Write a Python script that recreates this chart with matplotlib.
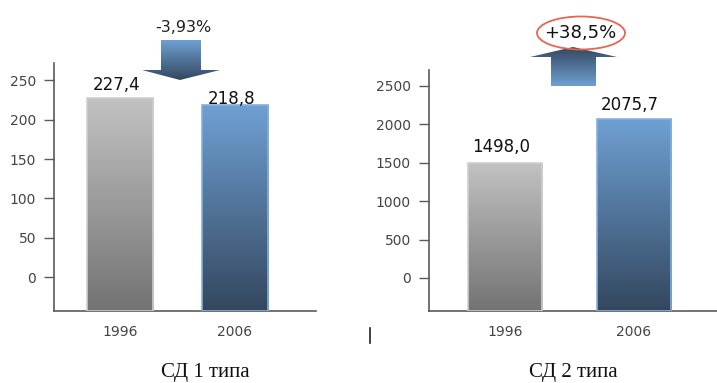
import numpy as np
import matplotlib
matplotlib.use("Agg")
import matplotlib.pyplot as plt
from matplotlib.patches import Polygon, Ellipse
from matplotlib.colors import LinearSegmentedColormap

# incidence of diabetes, two groups
years = ["1996", "2006"]
type1_values = [227.4, 218.8]
type2_values = [1498.0, 2075.7]
type1_change = "-3,93%"
type2_change = "+38,5%"
panel_titles = ["СД 1 типа", "СД 2 типа"]
type1_ticks = [0, 50, 100, 150, 200, 250]
type2_ticks = [0, 500, 1000, 1500, 2000, 2500]

GREY = LinearSegmentedColormap.from_list("grey", ["#737373", "#c2c2c2"])
BLUE = LinearSegmentedColormap.from_list("blue", ["#33475f", "#6fa0d3"])
AXIS = "#5a5a5a"


def fmt(v):
    return ("%.1f" % v).replace(".", ",")


def gradient_bar(ax, x, bottom, top, width, cmap, edge):
    bar = ax.bar(x, top - bottom, bottom=bottom, width=width,
                 color="none", edgecolor=edge, linewidth=1.2, zorder=3)[0]
    grad = np.linspace(0, 1, 256).reshape(-1, 1)
    im = ax.imshow(grad, cmap=cmap, origin="lower", aspect="auto",
                   extent=(x - width / 2, x + width / 2, bottom, top), zorder=2)
    im.set_clip_path(bar)


def draw_panel(ax, values, ticks, ylim, xlim, width, label_pad):
    ax.set_xlim(*xlim)
    ax.set_ylim(*ylim)
    cmaps = [GREY, BLUE]
    edges = ["#cfcfcf", "#86b0dc"]
    for i, v in enumerate(values):
        gradient_bar(ax, i, ylim[0], v, width, cmaps[i], edges[i])
        ax.text(i - 0.03, v + label_pad[i], fmt(v), ha="center", va="bottom",
                fontsize=12, color="#111111")
    ax.set_xticks(range(len(years)))
    ax.set_xticklabels(years)
    ax.set_yticks(ticks)
    ax.tick_params(axis="x", length=0, pad=10, labelsize=10, labelcolor="#444444")
    ax.tick_params(axis="y", length=7, width=1, color=AXIS, pad=6,
                   labelsize=10, labelcolor="#444444")
    for s in ["top", "right"]:
        ax.spines[s].set_visible(False)
    for s in ["left", "bottom"]:
        ax.spines[s].set_color(AXIS)
        ax.spines[s].set_linewidth(1.2)


def gradient_arrow(ov, pts, cmap, y0, y1, flip):
    poly = Polygon(pts, closed=True, facecolor="none", edgecolor="none")
    ov.add_patch(poly)
    grad = np.linspace(0, 1, 256).reshape(-1, 1)
    if flip:
        grad = grad[::-1]
    xs = [p[0] for p in pts]
    im = ov.imshow(grad, cmap=cmap, origin="upper", aspect="auto",
                   extent=(min(xs), max(xs), y1, y0), zorder=4)
    im.set_clip_path(poly)


fig = plt.figure(figsize=(7.17, 3.83), dpi=100)

ax1 = fig.add_axes([54 / 717, 72 / 383, 262 / 717, 248 / 383])
draw_panel(ax1, type1_values, type1_ticks, (-43, 272), (-0.574, 1.704), 0.58, [5, -4])

ax2 = fig.add_axes([429 / 717, 72 / 383, 288 / 717, 241 / 383])
draw_panel(ax2, type2_values, type2_ticks, (-430, 2708), (-0.589, 1.643), 0.58, [85, 55])

# overlay in pixel units for the change arrows and captions
ov = fig.add_axes([0, 0, 1, 1])
ov.set_xlim(0, 717)
ov.set_ylim(383, 0)
ov.axis("off")

down = [(161, 40), (201, 40), (201, 70), (220, 70), (180, 80), (142, 70), (161, 70)]
gradient_arrow(ov, down, BLUE, 40, 80, flip=True)
ov.text(183, 28, type1_change, ha="center", va="center", fontsize=11.5, color="#222222")

up = [(551, 86), (596, 86), (596, 57), (617, 57), (573, 47), (530, 57), (551, 57)]
gradient_arrow(ov, up, BLUE, 47, 86, flip=False)
ov.add_patch(Ellipse((581, 33), 88, 33, facecolor="none", edgecolor="#e8664f",
                     linewidth=1.3, zorder=5))
ov.text(580, 33, type2_change, ha="center", va="center", fontsize=13,
        color="#111111", zorder=6)

ov.plot([370, 370], [328, 343], color="#222222", linewidth=1.2)

ov.text(205, 373, panel_titles[0], ha="center", va="center", fontsize=15,
        family="Liberation Serif", color="#111111")
ov.text(573, 373, panel_titles[1], ha="center", va="center", fontsize=15,
        family="Liberation Serif", color="#111111")

fig.savefig("out.png", dpi=100)
